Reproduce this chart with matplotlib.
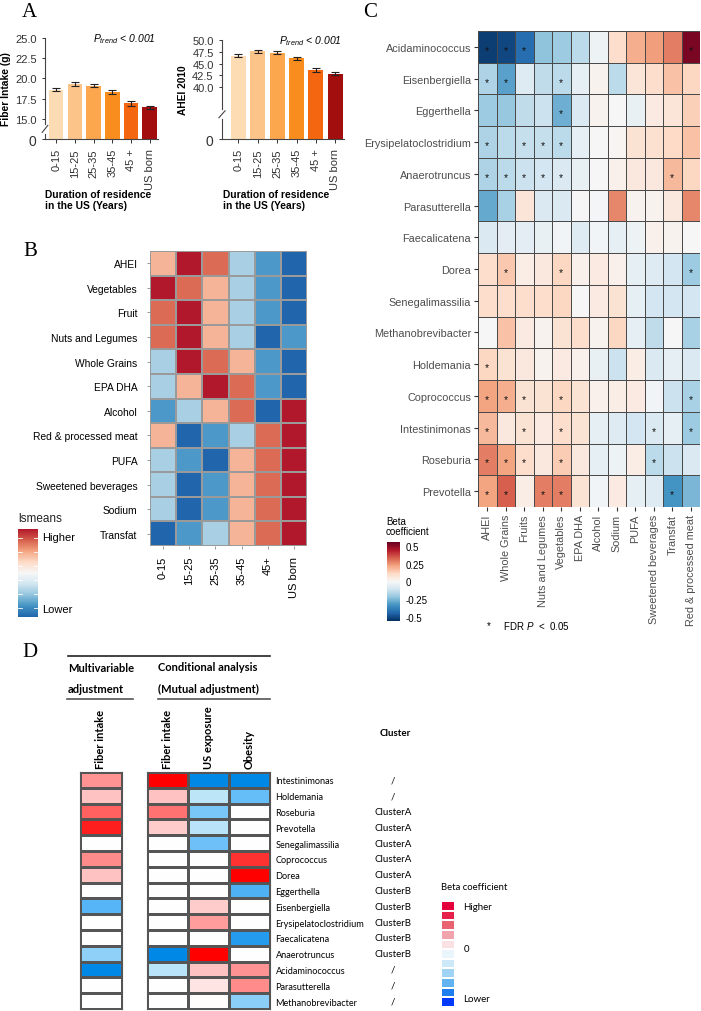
import numpy as np
import matplotlib
matplotlib.use('Agg')
import matplotlib.pyplot as plt
from matplotlib.colors import ListedColormap, LinearSegmentedColormap, Normalize
from matplotlib.lines import Line2D

plt.rcParams['font.family'] = ['Liberation Sans', 'DejaVu Sans']
plt.rcParams['mathtext.fontset'] = 'custom'
plt.rcParams['mathtext.it'] = 'Liberation Sans:italic'
plt.rcParams['mathtext.rm'] = 'Liberation Sans'

W, H = 701, 1012

# ---------------- panel A: intake by duration of residence
durations = ['0-15', '15-25', '25-35', '35-45', '45 +', 'US born']
fiber_mean = [18.6, 19.3, 19.1, 18.3, 16.9, 16.4]
fiber_err = [0.22, 0.2, 0.2, 0.22, 0.28, 0.22]
ahei_mean = [46.7, 47.6, 47.3, 46.1, 43.6, 42.8]
ahei_err = [0.35, 0.3, 0.35, 0.35, 0.45, 0.35]
bar_colors = ['#FDDCB4', '#FDC48A', '#FCA64E', '#F98E1E', '#F4660F', '#A20D0E']

# ---------------- panel B: lsmeans rank (1 = lowest, 6 = highest)
diet_items = ['AHEI', 'Vegetables', 'Fruit', 'Nuts and Legumes', 'Whole Grains',
              'EPA DHA', 'Alcohol', 'Red & processed meat', 'PUFA',
              'Sweetened beverages', 'Sodium', 'Transfat']
group_labels = ['0-15', '15-25', '25-35', '35-45', '45+', 'US born']
lsmeans_rank = [
    [4, 6, 5, 3, 2, 1],
    [6, 5, 4, 3, 2, 1],
    [5, 6, 4, 3, 2, 1],
    [5, 6, 4, 3, 1, 2],
    [3, 6, 5, 4, 2, 1],
    [3, 4, 6, 5, 2, 1],
    [2, 3, 4, 5, 1, 6],
    [4, 1, 2, 3, 5, 6],
    [3, 2, 1, 4, 5, 6],
    [3, 1, 2, 4, 5, 6],
    [3, 1, 2, 4, 5, 6],
    [1, 2, 3, 4, 5, 6],
]
rank_colors = ['#2166AC', '#4B98C9', '#A8CFE4', '#F5B497', '#DB6B55', '#B2182B']

# ---------------- panel C: beta coefficients, genera x diet
genera_c = ['Acidaminococcus', 'Eisenbergiella', 'Eggerthella', 'Erysipelatoclostridium',
            'Anaerotruncus', 'Parasutterella', 'Faecalicatena', 'Dorea',
            'Senegalimassilia', 'Methanobrevibacter', 'Holdemania', 'Coprococcus',
            'Intestinimonas', 'Roseburia', 'Prevotella']
diet_c = ['AHEI', 'Whole Grains', 'Fruits', 'Nuts and Legumes', 'Vegetables', 'EPA DHA',
          'Alcohol', 'Sodium', 'PUFA', 'Sweetened beverages', 'Transfat',
          'Red & processed meat']
beta_c = [
    [-0.52, -0.5, -0.42, -0.22, -0.2, -0.15, -0.03, 0.1, 0.2, 0.23, 0.28, 0.52],
    [-0.17, -0.3, -0.07, -0.14, -0.15, -0.05, 0.02, -0.15, 0.07, 0.1, 0.16, 0.12],
    [-0.2, -0.21, -0.14, -0.12, -0.27, -0.08, 0.02, 0.0, -0.04, 0.05, 0.07, 0.13],
    [-0.17, -0.15, -0.13, -0.13, -0.15, -0.05, 0.0, 0.01, 0.08, 0.09, 0.11, 0.16],
    [-0.17, -0.15, -0.12, -0.1, -0.08, -0.04, 0.0, 0.03, 0.06, 0.06, 0.18, 0.12],
    [-0.28, -0.18, 0.07, -0.08, -0.08, 0.0, -0.01, 0.27, 0.02, 0.02, 0.06, 0.27],
    [-0.08, -0.06, -0.06, -0.04, -0.02, -0.07, -0.02, -0.05, -0.03, 0.03, 0.02, 0.0],
    [0.1, 0.15, 0.04, 0.06, 0.12, 0.03, 0.05, 0.03, -0.05, -0.07, -0.1, -0.2],
    [0.1, 0.1, 0.1, 0.1, 0.12, 0.0, 0.05, 0.08, -0.05, -0.1, -0.1, -0.1],
    [0.0, 0.16, 0.05, 0.02, 0.08, 0.1, 0.02, 0.12, -0.05, -0.14, 0.0, -0.18],
    [0.12, 0.08, 0.06, 0.02, 0.05, 0.03, -0.04, -0.12, 0.04, -0.08, -0.05, -0.08],
    [0.22, 0.2, 0.08, 0.08, 0.12, 0.08, 0.03, 0.04, 0.05, -0.02, -0.12, -0.18],
    [0.18, 0.06, 0.08, 0.05, 0.1, 0.08, -0.05, -0.07, -0.1, -0.08, -0.05, -0.2],
    [0.28, 0.22, 0.1, 0.06, 0.14, 0.06, -0.05, -0.03, 0.04, -0.15, -0.12, -0.08],
    [0.22, 0.33, 0.04, 0.28, 0.28, 0.08, -0.02, 0.05, -0.05, -0.07, -0.33, -0.25],
]
sig_c = [[0, 1, 2, 11], [0, 1, 4], [4], [0, 2, 3, 4], [0, 1, 2, 3, 4, 10], [], [],
         [1, 4, 11], [], [], [0], [0, 1, 2, 4, 11], [0, 2, 4, 9, 11],
         [0, 1, 2, 4, 9], [0, 1, 3, 4, 10]]

# ---------------- panel D: fiber / US exposure / obesity associations
genera_d = ['Intestinimonas', 'Holdemania', 'Roseburia', 'Prevotella', 'Senegalimassilia',
            'Coprococcus', 'Dorea', 'Eggerthella', 'Eisenbergiella',
            'Erysipelatoclostridium', 'Faecalicatena', 'Anaerotruncus',
            'Acidaminococcus', 'Parasutterella', 'Methanobrevibacter']
clusters_d = ['/', '/', 'ClusterA', 'ClusterA', 'ClusterA', 'ClusterA', 'ClusterA',
              'ClusterB', 'ClusterB', 'ClusterB', 'ClusterB', 'ClusterB', '/', '/', '/']
fiber_multi = [0.42, 0.22, 0.62, 0.88, 0, 0.45, 0.22, 0, -0.65, 0, 0, -0.4, -1.0, 0, 0]
fiber_cond = [1.0, 0.22, 0.55, 0.18, 0, 0, 0, 0, 0, 0, 0, -1.0, -0.22, 0, 0]
us_exposure = [-1.0, -0.2, -0.5, -0.22, -0.55, 0, 0, 0, 0.18, 0.38, 0, 1.0, 0.22, 0.1, 0.01]
obesity = [-1.0, -0.58, 0, 0, 0, 0.8, 1.0, -0.68, 0, 0, -0.85, 0, 0.42, 0.45, -0.42]
cond_labels = ['Fiber intake', 'US exposure', 'Obesity']
legend_d_colors = ['#E4003A', '#E61F4B', '#E8626F', '#F0A3AC', '#FAE1E4', '#EAF6FC',
                   '#CDE8F8', '#9FD4F5', '#62B4F0', '#1E7EF0', '#0039FF']

fig = plt.figure(figsize=(W / 100, H / 100), dpi=100)


def add_ax(x, y, w, h):
    return fig.add_axes([x / W, 1 - (y + h) / H, w / W, h / H])


def ftext(x, y, s, **kw):
    return fig.text(x / W, 1 - y / H, s, **kw)


def fline(x0, x1, y, **kw):
    fig.add_artist(Line2D([x0 / W, x1 / W], [1 - y / H, 1 - y / H],
                          transform=fig.transFigure, **kw))


# ======================= A
def bar_panel(ax, means, errs, brk, low_h, top, ticks, ticklabels, ylabel, brk_frac, xleft):
    fwd = lambda y: np.where(y < brk, y * low_h / brk, y - brk + low_h)
    inv = lambda u: np.where(u < low_h, u * brk / low_h, u + brk - low_h)
    ax.set_yscale('function', functions=(fwd, inv))
    x = np.arange(len(means))
    ax.bar(x, means, width=0.78, color=bar_colors, edgecolor='none')
    ax.errorbar(x, means, yerr=errs, fmt='none', ecolor='#222222',
                elinewidth=0.8, capsize=2.6, capthick=0.8)
    ax.set_ylim(0, top)
    ax.set_xlim(xleft, 5.45)
    ax.set_yticks(ticks, ticklabels)
    ax.set_xticks(x, durations, rotation=90)
    ax.tick_params(axis='both', labelsize=8, colors='#333333', length=2.5, width=0.7)
    ax.tick_params(axis='x', length=3)
    for s in ['top', 'right']:
        ax.spines[s].set_visible(False)
    for s in ['left', 'bottom']:
        ax.spines[s].set_color('#444444')
        ax.spines[s].set_linewidth(0.8)
    ax.set_ylabel(ylabel, fontsize=7.4, fontweight='bold', labelpad=3)
    # axis break marks
    ax.plot([0, 0], [brk_frac - 0.03, brk_frac + 0.03], transform=ax.transAxes,
            color='white', lw=2, clip_on=False, zorder=5)
    ax.plot([-0.025, 0.025], [brk_frac - 0.035, brk_frac + 0.035], transform=ax.transAxes,
            color='#444444', lw=0.8, clip_on=False, zorder=6)
    ax.text(0.98, 1.0, r'$P_{trend}$ < 0.001', transform=ax.transAxes, ha='right',
            va='center', fontsize=7.5, style='italic')


ax_f = add_ax(45, 39, 113, 101)
bar_panel(ax_f, fiber_mean, fiber_err, 15, 2.5, 25, [0, 15, 17.5, 20, 22.5, 25],
          ['0', '15.0', '17.5', '20.0', '22.5', '25.0'], 'Fiber Intake (g)', 0.1, -0.6)
ax_h = add_ax(222, 41, 122, 99)
bar_panel(ax_h, ahei_mean, ahei_err, 40, 11.06, 50, [0, 40, 42.5, 45, 47.5, 50],
          ['0', '40.0', '42.5', '45.0', '47.5', '50.0'], 'AHEI 2010', 0.25, -0.85)
for a in (ax_f, ax_h):
    a.get_yticklabels()[0].set_fontsize(10)

ftext(45, 190, 'Duration of residence\nin the US (Years)', fontsize=7.4,
      fontweight='bold', va='top', ha='left', linespacing=1.15)
ftext(223, 190, 'Duration of residence\nin the US (Years)', fontsize=7.4,
      fontweight='bold', va='top', ha='left', linespacing=1.15)

# ======================= B
axb = add_ax(150, 252, 157, 295)
axb.pcolormesh(np.array(lsmeans_rank), cmap=ListedColormap(rank_colors), vmin=0.5,
               vmax=6.5, edgecolors='#9a9a9a', linewidth=0.3)
axb.set_xlim(0, 6)
axb.set_ylim(12, 0)
axb.set_xticks(np.arange(6) + 0.5, group_labels, rotation=90)
axb.set_yticks(np.arange(12) + 0.5, diet_items)
axb.tick_params(length=2, color='#888888', labelsize=7.4, pad=7, width=0.6)
axb.tick_params(axis='x', labelsize=8, pad=5)
for s in axb.spines.values():
    s.set_visible(False)

cax_b = add_ax(18, 530, 20, 88)
lsm_cmap = LinearSegmentedColormap.from_list('lsm', plt.cm.RdBu_r(np.linspace(0.1, 0.9, 256)))
cb_b = fig.colorbar(plt.cm.ScalarMappable(norm=Normalize(0, 1), cmap=lsm_cmap), cax=cax_b)
cb_b.set_ticks([0.92, 0.1], labels=['Higher', 'Lower'])
cb_b.outline.set_visible(False)
cax_b.tick_params(length=0, labelsize=8, pad=3)
for v in np.linspace(0.1, 0.9, 6):
    cax_b.plot([0, 0.2], [v, v], color='white', lw=0.6)
    cax_b.plot([0.8, 1], [v, v], color='white', lw=0.6)
ftext(18, 519, 'lsmeans', fontsize=8.5, va='center', color='#222222')

# ======================= C
axc = add_ax(478, 32, 222, 476)
axc.pcolormesh(np.array(beta_c), cmap='RdBu_r', vmin=-0.55, vmax=0.55,
               edgecolors='#4a4a4a', linewidth=0.6)
for i, cols in enumerate(sig_c):
    for j in cols:
        axc.text(j + 0.5, i + 0.6, '*', ha='center', va='center', fontsize=7.5, color='#111111')
axc.set_xlim(0, 12)
axc.set_ylim(15, 0)
axc.set_xticks(np.arange(12) + 0.5, diet_c, rotation=90)
axc.set_yticks(np.arange(15) + 0.5, genera_c)
axc.tick_params(length=3, color='#333333', labelsize=7.8, labelcolor='#4D4D4D', pad=2, width=0.8)
for s in axc.spines.values():
    s.set_visible(False)

cax_c = add_ax(387, 543, 13, 79)
cb_c = fig.colorbar(plt.cm.ScalarMappable(norm=Normalize(-0.55, 0.55), cmap='RdBu_r'), cax=cax_c)
cb_c.set_ticks([0.5, 0.25, 0, -0.25, -0.5], labels=['0.5', '0.25', '0', '-0.25', '-0.5'])
cb_c.outline.set_visible(False)
cax_c.tick_params(length=0, labelsize=7, pad=4)
ftext(386, 527, 'Beta\ncoefficient', fontsize=7, va='center', linespacing=1.0)
ftext(486, 626, '*     FDR $\\mathit{P}$  <  0.05', fontsize=7, va='center')

# ======================= D
dfont = ['Lato', 'DejaVu Sans']
cmap_d = LinearSegmentedColormap.from_list(
    'd', [(0, '#0088E6'), (0.2, '#62BCF8'), (0.4, '#BDE5F8'), (0.5, '#FFFFFF'),
          (0.6, '#FFC8C8'), (0.8, '#FF6666'), (1, '#FF0000')])

ax_d1 = add_ax(80, 773, 42, 237)
ax_d1.pcolormesh(np.array(fiber_multi)[:, None], cmap=cmap_d, vmin=-1, vmax=1,
                 edgecolors='#555555', linewidth=0.8)
ax_d2 = add_ax(147, 773, 123, 237)
ax_d2.pcolormesh(np.column_stack([fiber_cond, us_exposure, obesity]), cmap=cmap_d,
                 vmin=-1, vmax=1, edgecolors='#555555', linewidth=0.8)
for a, labels in ((ax_d1, ['Fiber intake']), (ax_d2, cond_labels)):
    a.set_ylim(15, 0)
    a.xaxis.tick_top()
    a.set_xticks(np.arange(len(labels)) + 0.5)
    a.set_xticklabels(labels, rotation=90, fontsize=8, fontweight='bold', family=dfont)
    a.tick_params(length=0, pad=3)
    for s in a.spines.values():
        s.set_color('#555555')
        s.set_linewidth(0.8)
ax_d1.set_yticks([])
ax_d2.yaxis.tick_right()
ax_d2.set_yticks(np.arange(15) + 0.5)
ax_d2.set_yticklabels(genera_d, fontsize=6.6, family=dfont)
ax_d2.tick_params(axis='y', length=0, pad=4)
for i, c in enumerate(clusters_d):
    ax_d2.text(6.0, i + 0.5, c, ha='center', va='center', fontsize=7, family=dfont)

fline(68, 270, 657, color='#222222', lw=1.2)
fline(67, 133, 700, color='#555555', lw=1.2)
fline(158, 270, 700, color='#555555', lw=1.2)
ftext(68, 669, 'Multivariable', fontsize=8, fontweight='bold', family=dfont, va='center')
ftext(68, 690, 'adjustment', fontsize=8, fontweight='bold', family=dfont, va='center')
ftext(158, 668, 'Conditional analysis', fontsize=8, fontweight='bold', family=dfont, va='center')
ftext(158, 689, '(Mutual adjustment)', fontsize=8, fontweight='bold', family=dfont, va='center')
ftext(395, 733, 'Cluster', fontsize=7, fontweight='bold', family=dfont, va='center', ha='center')

ax_leg = add_ax(441, 902, 14, 106)
ax_leg.pcolormesh(np.arange(len(legend_d_colors))[:, None],
                  cmap=ListedColormap(legend_d_colors), edgecolors='white', linewidth=0.3)
ax_leg.set_ylim(len(legend_d_colors), 0)
ax_leg.axis('off')
ftext(441, 888, 'Beta coefficient', fontsize=6.8, family=dfont, va='center')
ftext(463, 907, 'Higher', fontsize=7, family=dfont, va='center')
ftext(464, 950, '0', fontsize=7, family=dfont, va='center')
ftext(463, 1000, 'Lower', fontsize=7, family=dfont, va='center')

# ======================= panel letters
for lab, x, y in (('A', 22, 3), ('B', 23, 242), ('C', 363, 3), ('D', 22, 643)):
    ftext(x, y, lab, fontsize=15, family='Liberation Serif', va='top', ha='left')

fig.savefig('out.png', dpi=100)
